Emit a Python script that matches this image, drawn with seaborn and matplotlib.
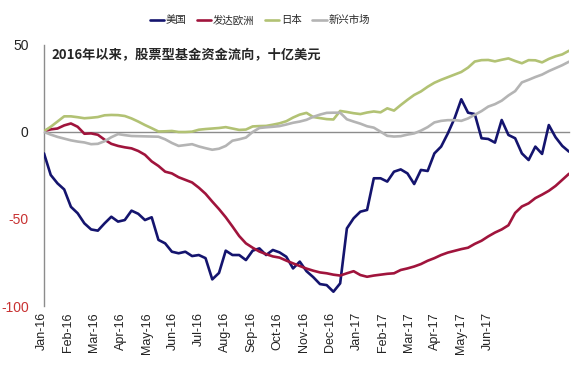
import numpy as np
import pandas as pd
import seaborn as sns
import matplotlib
matplotlib.use("Agg")
import matplotlib.pyplot as plt
import matplotlib.transforms as mtransforms

# ---------------------------------------------------------------------------
# weekly cumulative equity fund flows since 2016, bn USD
us = [-12.3, -24.7, -29.5, -33, -43, -46.7, -52.5, -56, -56.7, -52.5,
      -48.7, -51.5, -50.6, -45.2, -47, -50.6, -49, -62, -64, -68.8,
      -69.7, -68.8, -71.3, -70.7, -72.5, -84.7, -81, -68.2, -70.7, -70.7,
      -73.6, -68.2, -66.9, -70.7, -67.8, -69.2, -71.7, -78.4, -74.5, -80,
      -83.4, -87.4, -88, -91.8, -87, -55.4, -49.6, -45.8, -44.8, -26.6,
      -26.6, -28.5, -22.8, -21.5, -23.8, -29.9, -21.8, -22.4, -12.3, -8.4,
      -0.8, 7.9, 18.8, 11.1, 10.3, -3.6, -4, -6.1, 6.9, -1.7,
      -3.6, -12.3, -16.1, -8.4, -12.6, 4, -3, -8, -11.3]
europe = [0.5, 1.5, 2, 3.8, 4.9, 3, -1, -0.8, -1.6, -4.4,
          -6.8, -8, -8.8, -9.4, -10.9, -13.1, -16.9, -19.5, -22.8, -23.8,
          -26, -27.5, -29, -32, -35.5, -40, -44.3, -49, -54.3, -59.8,
          -64, -66.5, -68.7, -70.2, -71.5, -72.2, -73.9, -75.5, -77, -78.5,
          -79.7, -80.7, -81.2, -82, -82.5, -81.2, -80, -82.2, -83.2, -82.5,
          -82, -81.5, -81.2, -79.3, -78.4, -77.3, -75.9, -74, -72.5, -70.7,
          -69.3, -68.3, -67.3, -66.5, -64.3, -62.5, -60, -57.8, -56, -53.6,
          -46.5, -42.8, -41, -38, -36, -33.8, -31, -27.5, -24]
japan = [0.5, 3, 6, 9, 9, 8.5, 7.9, 8.2, 8.6, 9.6,
         9.8, 9.7, 9.2, 7.8, 6, 4, 2.2, 0.3, 0.4, 0.6,
         0, 0, 0.2, 1.3, 1.7, 2, 2.3, 2.8, 2, 1.2,
         1.4, 3.2, 3.4, 3.5, 4.2, 5, 6.2, 8.3, 10, 11,
         8.6, 8, 7.4, 7.2, 12.1, 11.5, 10.8, 10.3, 11.2, 11.8,
         11.3, 13.6, 12.3, 15.5, 18.5, 21.3, 23.3, 26, 28.3, 30,
         31.5, 33, 34.5, 37, 40.5, 41.3, 41.4, 40.6, 41.5, 42.3,
         40.8, 39.5, 41.3, 41.2, 40, 42, 43.5, 44.6, 46.7]
emerging = [0, -1.5, -2.8, -3.8, -4.8, -5.5, -6, -7, -6.8, -5.3,
            -3, -1.2, -1.8, -2.3, -2.4, -2.5, -2.6, -2.7, -4.2, -6.3,
            -8, -7.5, -7, -8.3, -9.3, -10.2, -9.6, -8, -5, -4.2,
            -3.2, 0, 2.3, 2.7, 3, 3.4, 4.3, 5.3, 6, 7,
            8.7, 10, 11, 11.1, 11.1, 7.3, 6, 4.8, 3.3, 2.5,
            0.2, -2.2, -2.6, -2.4, -1.5, -0.8, 0.8, 2.8, 5.5, 6.4,
            6.8, 6.8, 6.4, 7.8, 9.9, 12, 14.6, 16, 18, 21,
            23.5, 28.5, 30, 31.6, 33, 35, 36.7, 38.4, 40.4]

series_names = ['美国', '发达欧洲', '日本', '新兴市场']
series_colors = ['#14146e', '#a0143c', '#b2c274', '#b4b4b4']
month_labels = ['Jan-16', 'Feb-16', 'Mar-16', 'Apr-16', 'May-16', 'Jun-16',
                'Jul-16', 'Aug-16', 'Sep-16', 'Oct-16', 'Nov-16', 'Dec-16',
                'Jan-17', 'Feb-17', 'Mar-17', 'Apr-17', 'May-17', 'Jun-17']
y_ticks = [50, 0, -50, -100]
title = '2016年以来，股票型基金资金流向，十亿美元'

# =============================================================================
n = len(us)
week = np.arange(n)
df = pd.DataFrame({
    'week': np.tile(week, 4),
    'flow': us + europe + japan + emerging,
    'region': np.repeat(series_names, n),
})

sns.set_style('white')
plt.rcParams['font.family'] = ['Liberation Sans', 'Noto Sans CJK SC', 'DejaVu Sans']

fig = plt.figure(figsize=(5.81, 3.67), dpi=100)
ax = fig.add_axes([44 / 581, 1 - 306 / 367, 525 / 581, 261 / 367])

sns.lineplot(data=df, x='week', y='flow', hue='region', hue_order=series_names,
             palette=series_colors, linewidth=1.9, ax=ax, zorder=3)

ax.set_xlim(0, n - 1)
ax.set_ylim(-100, 50)
ax.set_xlabel('')
ax.set_ylabel('')

# zero line acts as the category axis
for s in ['top', 'right']:
    ax.spines[s].set_visible(False)
ax.spines['bottom'].set_position(('data', 0))
ax.spines['bottom'].set_color('#8c8c8c')
ax.spines['bottom'].set_linewidth(1.0)
ax.spines['left'].set_color('#8c8c8c')
ax.spines['left'].set_linewidth(1.0)
ax.set_xticks(np.linspace(0, n - 1, 19))
ax.set_xticklabels([])
ax.tick_params(axis='x', direction='out', length=3, width=0.8, color='#8c8c8c')

ax.set_yticks(y_ticks)
ax.set_yticklabels([str(v) for v in y_ticks], fontsize=10)
ax.tick_params(axis='y', direction='out', length=3, width=0.8,
               color='#8c8c8c', pad=8)
for lab, v in zip(ax.get_yticklabels(), y_ticks):
    lab.set_color('#c83232' if v < 0 else '#222222')

# month labels along the bottom
trans = mtransforms.blended_transform_factory(ax.transData, ax.transAxes)
step = 26.2 / 525 * (n - 1)
for k, lab in enumerate(month_labels):
    ax.text(-0.3 + step * k, -0.023, lab, transform=trans, rotation=90,
            ha='center', va='top', fontsize=9, color='#222222')

ax.text(0.015, 0.962, title, transform=ax.transAxes, fontsize=9.5,
        fontweight='bold', va='center', ha='left',
        family=['Noto Sans CJK SC', 'DejaVu Sans'])

handles, labels = ax.get_legend_handles_labels()
ax.get_legend().remove()
fig.legend(handles, labels, loc='center', bbox_to_anchor=(0.447, 0.945),
           ncol=4, frameon=False, handlelength=1.4,
           handletextpad=0.15, columnspacing=1.0,
           prop={'family': ['Noto Sans CJK SC', 'DejaVu Sans'], 'size': 7.5})

fig.savefig('out.png', dpi=100)
